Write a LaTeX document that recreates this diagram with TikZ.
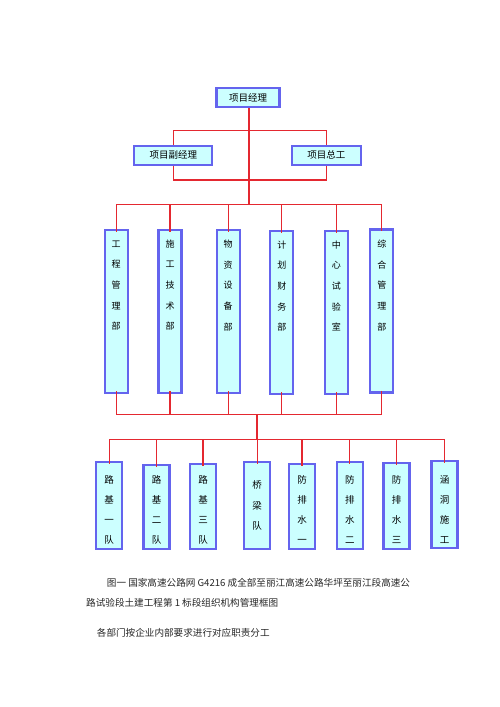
\documentclass[tikz,border=0pt]{standalone}
\usepackage{fontspec}
\newfontfamily\cjk{Noto Sans CJK SC}
\definecolor{bblue}{RGB}{100,100,238}
\definecolor{bfill}{RGB}{204,255,255}
\definecolor{lred}{RGB}{228,40,48}
\begin{document}
\begin{tikzpicture}[x=1pt,y=-1pt,font=\cjk,
  box/.style={draw=bblue,line width=2.2pt,fill=bfill,inner sep=0pt},
  hbox/.style={box,minimum height=19pt,font=\cjk\fontsize{9.5}{10}\selectfont},
  col/.style={box,minimum width=23pt,minimum height=163pt},
  team/.style={box,minimum width=26pt},
  coltxt/.style={align=center,inner sep=0pt,font=\cjk\fontsize{9}{20.7}\selectfont},
  teamtxt/.style={align=center,inner sep=0pt,font=\cjk\fontsize{9.5}{20}\selectfont},
  captxt/.style={anchor=west,inner sep=0pt,font=\cjk\fontsize{9.6}{10}\selectfont,text=black!85},
  wire/.style={draw=lred,line width=1.3pt}]
\useasboundingbox (0,0) rectangle (500,707);

% top level
\node[hbox,minimum width=63pt] (pm) at (248,97.7) {项目经理};
\node[hbox,minimum width=78pt] (dpm) at (173.3,155.3) {项目副经理};
\node[hbox,minimum width=69pt] (ce) at (326.3,155.3) {项目总工};

\coordinate (j1) at (249,130.7);
\coordinate (j2) at (249,180);
\coordinate (j3) at (249,204.5);
\coordinate (j4) at (257,414.5);
\coordinate (j5) at (257,439.3);

\draw[wire] (pm.south -| j1) -- (j3);
\draw[wire] (dpm.north) |- (j1) -| (ce.north);
\draw[wire] (dpm.south) |- (j2) -| (ce.south);

% departments
\node[col] (d1) at (116.2,311.5) {};
\node[col] (d2) at (170,311.2) {};
\node[col] (d3) at (228.2,311.5) {};
\node[col] (d4) at (281.8,312.5) {};
\node[col] (d5) at (336.3,312.6) {};
\node[col] (d6) at (381.8,311) {};

\node[coltxt] (t1) at (116.2,285.5) {工\\程\\管\\理\\部};
\node[coltxt] (t2) at (170,285) {施\\工\\技\\术\\部};
\node[coltxt] (t3) at (228.2,285.5) {物\\资\\设\\备\\部};
\node[coltxt] (t4) at (281.8,286) {计\\划\\财\\务\\部};
\node[coltxt] (t5) at (336.3,286) {中\\心\\试\\验\\室};
\node[coltxt] (t6) at (381.8,285.5) {综\\合\\管\\理\\部};

\draw[wire] (d1.north |- j3) -- (d6.north |- j3);
\foreach \d in {d1,d2,d3,d4,d5,d6}{
  \draw[wire] (\d.north |- j3) -- ([yshift=-3pt]\d.north);
  \draw[wire] ([yshift=3pt]\d.south) -- (\d.south |- j4);
}
\draw[wire] (d1.south |- j4) -- (d6.south |- j4);
\draw[wire] (j4) -- (j5);

% teams
\node[team,minimum height=87pt] (e1) at (109.2,505.8) {};
\node[team,minimum height=84.3pt] (e2) at (156.5,507.2) {};
\node[team,minimum height=84.7pt] (e3) at (203,506.7) {};
\node[team,minimum height=87.3pt] (e4) at (257.2,505.3) {};
\node[team,minimum height=85pt] (e5) at (302,506.5) {};
\node[team,minimum height=87pt] (e6) at (349.8,505.8) {};
\node[team,minimum height=85.7pt] (e7) at (396.5,506.2) {};
\node[team,minimum height=87pt] (e8) at (444.5,504.5) {};

\node[teamtxt] (u1) at (109.2,510) {路\\基\\一\\队};
\node[teamtxt] (u2) at (156.5,510) {路\\基\\二\\队};
\node[teamtxt] (u3) at (203,510) {路\\基\\三\\队};
\node[teamtxt,font=\cjk\fontsize{9.5}{20.5}\selectfont] (u4) at (257.2,505.5) {桥\\梁\\队};
\node[teamtxt] (u5) at (302,510) {防\\排\\水\\一};
\node[teamtxt] (u6) at (349.8,510) {防\\排\\水\\二};
\node[teamtxt] (u7) at (396.5,510) {防\\排\\水\\三};
\node[teamtxt] (u8) at (444.5,510) {涵\\洞\\施\\工};

\draw[wire] (e1.north |- j5) -- (e8.north |- j5);
\foreach \e in {e1,e2,e3,e4,e5,e6,e7,e8}{
  \draw[wire] (\e.north |- j5) -- ([yshift=-3pt]\e.north);
}

% caption
\node[captxt] (c1) at (106.7,582.7) {图一\ 国家高速公路网 G4216 成全部至丽江高速公路华坪至丽江段高速公};
\node[captxt] (c2) at (86,602.7) {路试验段土建工程第 1 标段组织机构管理框图};
\node[captxt] (c3) at (96.7,632.7) {各部门按企业内部要求进行对应职责分工};
\end{tikzpicture}
\end{document}
